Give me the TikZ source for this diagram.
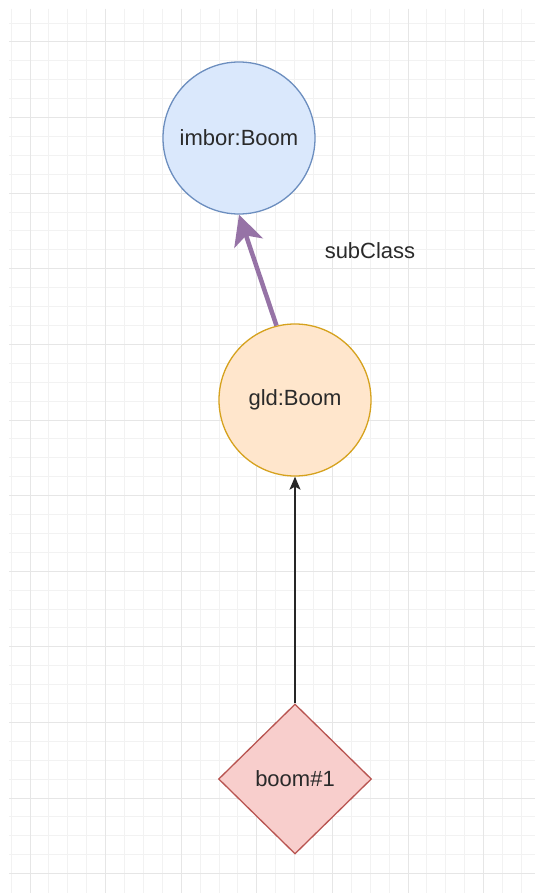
\documentclass[tikz,border=0pt]{standalone}
\usepackage{fontspec}
\setmainfont{Liberation Sans}
\usetikzlibrary{shapes.geometric,arrows.meta}

\definecolor{blueFill}{HTML}{DAE8FC}
\definecolor{blueLine}{HTML}{6C8EBF}
\definecolor{orangeFill}{HTML}{FFE6CC}
\definecolor{orangeLine}{HTML}{D6A21E}
\definecolor{redFill}{HTML}{F8CECC}
\definecolor{redLine}{HTML}{B85450}
\definecolor{purpleLine}{HTML}{9673A6}
\definecolor{textGray}{HTML}{2A2A2A}
\definecolor{minorGrid}{HTML}{F2F2F2}
\definecolor{majorGrid}{HTML}{E6E6E6}

\tikzset{
    minorline/.style = {draw = minorGrid, line width = 1pt},
    majorline/.style = {draw = majorGrid, line width = 1pt},
    classnode/.style = {circle, draw, line width = 1.3pt, minimum size = 152pt, inner sep = 0pt,
                        text = textGray, font = \fontsize{22}{26}\selectfont},
    instnode/.style  = {diamond, draw, line width = 1.3pt, minimum width = 153pt, minimum height = 150pt,
                        inner sep = 0pt, text = textGray, font = \fontsize{22}{26}\selectfont}
}

\begin{document}
\begin{tikzpicture}[x = 1pt, y = -1pt, align = center]
                    \useasboundingbox[fill = white] (0, 0) rectangle (535, 893);

                    % grid
                    \foreach \i in {0,...,27} {
                        \draw[minorline] ({11.1 + 18.9*\i}, 9) -- ({11.1 + 18.9*\i}, 893);
                    }
                    \foreach \i in {1,...,46} {
                        \draw[minorline] (9, {4.2 + 18.9*\i}) -- (535, {4.2 + 18.9*\i});
                    }
                    \foreach \i in {0,...,6} {
                        \draw[majorline] ({30 + 75.6*\i}, 9) -- ({30 + 75.6*\i}, 893);
                    }
                    \foreach \i in {0,...,11} {
                        \draw[majorline] (9, {42 + 75.6*\i}) -- (535, {42 + 75.6*\i});
                    }

                    \node[classnode, fill = blueFill, draw = blueLine] (imbor) at (239, 138) {imbor:Boom};
                    \node[classnode, fill = orangeFill, draw = orangeLine] (gld) at (295, 400) {gld:Boom};
                    \node[instnode, fill = redFill, draw = redLine] (boom) at (295, 779) {boom\#1};
                    \node[text = textGray, font = \fontsize{22}{26}\selectfont] (subclass) at (370, 251) {subClass};

                    \draw[-{Stealth[length = 30pt, width = 30pt, inset = 8pt]}, line width = 4.5pt, purpleLine] (gld.104) -- (imbor.south);
                    \draw[-{Stealth[length = 13pt, width = 11pt, inset = 3pt]}, line width = 1.5pt, black!85] (boom.north) -- (gld.south);
                \end{tikzpicture}
\end{document}
